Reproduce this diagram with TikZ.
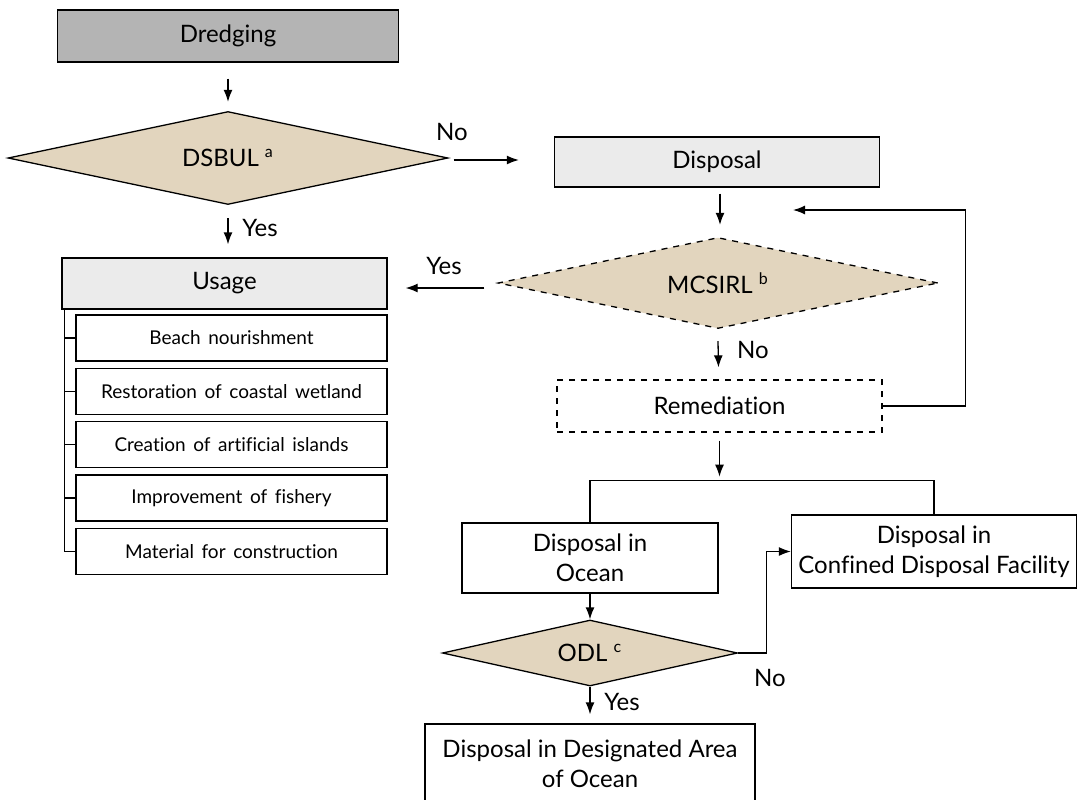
\documentclass[tikz,border=0pt]{standalone}
\usepackage{fontspec}
\setmainfont{Lato}[Ligatures=NoCommon]
\usetikzlibrary{shapes.geometric,arrows.meta,calc}

\definecolor{darkbox}{HTML}{B4B4B4}
\definecolor{lightbox}{HTML}{EBEBEB}
\definecolor{tanfill}{HTML}{E2D5BE}

\tikzset{
  flowbox/.style={draw, rectangle, inner sep=1pt, align=center,
    font=\fontsize{12}{15}\selectfont},
  choice/.style={draw, diamond, aspect=4, inner sep=0pt, fill=tanfill,
    font=\fontsize{12}{15}\selectfont},
  usebox/.style={draw, rectangle, minimum width=155.5pt, minimum height=23pt,
    font=\fontsize{9.5}{11}\selectfont,
    execute at begin node={\spaceskip=0.4em plus 0.1em\relax}},
  flow/.style={-{Latex[length=6pt,width=4.5pt]}},
  tag/.style={font=\fontsize{12}{15}\selectfont}
}

\begin{document}
\begin{tikzpicture}[x=0.5pt, y=-0.5pt, line width=0.65pt]
  % keep the page the size of the original figure
  \useasboundingbox (0,0) rectangle (1082,799);

  % left column: dredging, first test and usage
  \node[flowbox, fill=darkbox, minimum width=170.5pt, minimum height=26pt]
    (dredging) at (228,36) {Dredging};
  \node[choice, minimum width=220pt, minimum height=46.5pt]
    (dsbul) at (228,158) {DSBUL~\textsuperscript{a}};
  \node[flowbox, fill=lightbox, minimum width=162.5pt, minimum height=25.5pt]
    (usage) at (224.5,283.5) {Usage};

  % list of uses below the usage box
  \foreach \txt [count=\i] in {Beach nourishment, Restoration of coastal wetland,
      Creation of artificial islands, Improvement of fishery,
      Material for construction}
    \node[usebox] (use\i) at (231.5,{338+53.3*(\i-1)}) {\txt};

  % right column: disposal, second test and remediation
  \node[flowbox, fill=lightbox, minimum width=162.5pt, minimum height=25pt]
    (disposal) at (717,162) {Disposal};
  \node[choice, dashed, minimum width=220pt, minimum height=45.5pt]
    (mcsirl) at (718,283) {MCSIRL~\textsuperscript{b}};
  \node[flowbox, dashed, minimum width=162.5pt, minimum height=26pt]
    (remediation) at (719.5,406) {Remediation};

  % bottom part: the two ways of disposal
  \node[flowbox, minimum width=128pt, minimum height=35pt]
    (ocean) at (590,558) {Disposal in\\Ocean};
  \node[flowbox, minimum width=142.5pt, minimum height=36.5pt]
    (cdf) at (934,551.5) {Disposal in\\Confined Disposal Facility};
  \node[choice, minimum width=147.5pt, minimum height=33pt]
    (odl) at (590,653) {ODL~\textsuperscript{c}};
  \node[flowbox, minimum width=165pt, minimum height=40pt]
    (designated) at (590,764) {Disposal in Designated Area\\of Ocean};

  % arrows of the left column
  \draw[flow] ($(dredging.south)+(0,16)$) -- ($(dsbul.north)+(0,-9)$);
  \draw[flow] ($(dsbul.south)+(0,13)$) -- ($(dsbul.south |- usage.north)+(0,-13)$);
  \node[tag] (yes1) at (260,228) {Yes};

  % usage list hangs on one spine
  \coordinate (spine) at ($(usage.south west)+(3,0)$);
  \draw (spine) -- (spine |- use5.west);
  \foreach \i in {1,...,5}
    \draw (spine |- use\i.west) -- (use\i.west);

  % no: go to disposal
  \draw[flow] ($(dsbul.east)+(5,2)$) -- ($(dsbul.east -| disposal.west)+(-35,2)$);
  \node[tag] (no1) at (452,132) {No};

  % arrows of the right column
  \draw[flow] ($(disposal.south)+(3,6)$) -- ($(mcsirl.north)+(2,-12)$);
  \draw[flow] ($(mcsirl.west)+(-13,5)$) -- ($(mcsirl.west -| usage.east)+(18,5)$);
  \node[tag] (yes2) at (444,266) {Yes};
  \draw[flow] ($(mcsirl.south)+(0,12)$) -- ($(remediation.north)+(-1,-12)$);
  \node[tag] (no2) at (753,350) {No};

  % loop back from remediation to the second test
  \coordinate (loopend) at (793,210);
  \draw[flow] (remediation.east) -- ++(83,0) |- (loopend);

  % split below remediation
  \coordinate (split) at ($(remediation.south)+(0,48)$);
  \draw[flow] ($(remediation.south)+(0,8)$) -- ($(split)+(0,-4)$);
  \draw (ocean.north) |- (split) -| (cdf.north);

  % ocean disposal test
  \draw[flow] (ocean.south) -- (odl.north);
  \draw[flow] (odl.east) -- ++(28,0) |- (cdf.west);
  \node[tag] (no3) at (770,678) {No};
  \draw[flow] (odl.south) -- ($(designated.north)+(0,-9)$);
  \node[tag] (yes3) at (622,702) {Yes};

\end{tikzpicture}
\end{document}
